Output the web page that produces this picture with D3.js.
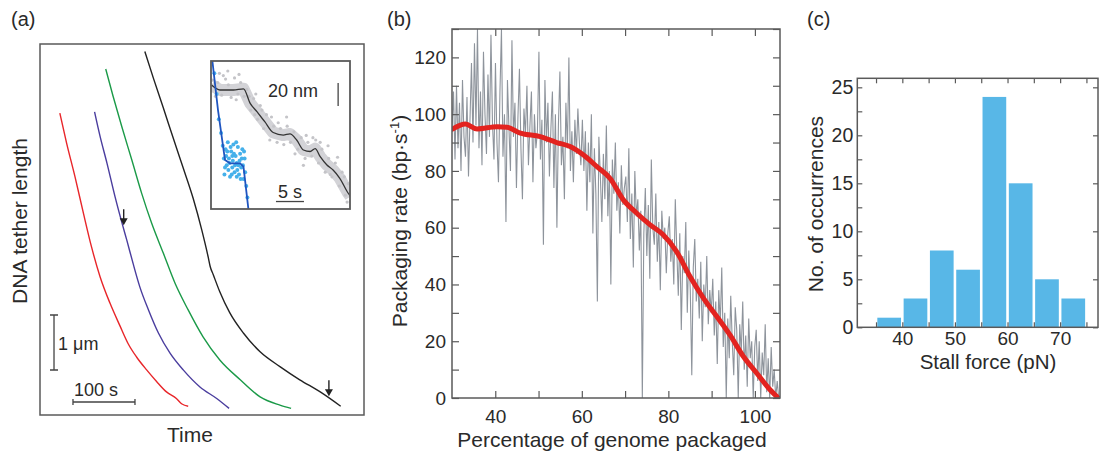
<!DOCTYPE html>
<html>
<head>
<meta charset="utf-8">
<script src="https://cdn.jsdelivr.net/npm/d3@7"></script>
<style>
  body { margin: 0; background: #fff; }
  svg text { font-family: "Liberation Sans", Arial, Helvetica, sans-serif; fill: #2a2a2a; }
</style>
</head>
<body>
<svg id="fig" width="1101" height="453"></svg>
<script>
// ---------- panel (a): tether length traces (time in s, length in um) ----------
const redTime = [32, 43, 56.5, 70, 83, 97, 113, 129, 142, 156, 172, 188, 204, 220, 229, 239];
const redLen = [5.49, 4.94, 4.33, 3.67, 3.06, 2.51, 2.03, 1.62, 1.3, 1.05, 0.82, 0.61, 0.42, 0.3, 0.2, 0.16];
const blueTime = [88, 97, 108, 121, 134, 140, 150, 161, 175, 191, 210, 231, 258, 285, 305];
const blueLen = [5.51, 5.06, 4.58, 3.97, 3.42, 3.18, 2.76, 2.33, 1.91, 1.49, 1.12, 0.82, 0.51, 0.3, 0.12];
const greenTime = [106, 118, 132, 148, 164, 180, 199, 218, 239, 263, 290, 323, 355, 387, 405];
const greenLen = [6.29, 5.79, 5.24, 4.64, 4.03, 3.49, 2.94, 2.39, 1.91, 1.42, 1.0, 0.64, 0.33, 0.18, 0.12];
const blackTime = [169, 183, 199, 215, 231, 247, 261, 271.5, 274.5, 279.5, 290, 306, 328, 355, 387, 419, 452, 485];
const blackLen = [6.61, 6.12, 5.58, 5.03, 4.49, 3.94, 3.36, 2.86, 2.7, 2.55, 2.24, 1.86, 1.49, 1.15, 0.88, 0.64, 0.42, 0.16];
const traceColors = ["#e8262a", "#4a3d9e", "#1b9a48", "#222222"];
const arrowTips = [[135, 3.45], [466, 0.34]];

// inset: time in s, position in nm
const stepTime = [0.1, 1.6, 4.0, 5.8, 7.0, 8.2, 9.6, 11.1, 12.9, 14.1, 15.3, 16.5, 17.7, 18.6, 19.5, 20.7, 21.8, 23.0, 24.5, 24.9];
const stepPos = [107.8, 103.5, 103.5, 104.5, 91.9, 84.6, 75.9, 66.5, 64.3, 65.3, 60, 51.3, 50, 52.5, 45.5, 38.3, 33.9, 26.7, 13.7, 11];
const stepDots = [[0.3, 112], [0.8, 98], [1.2, 110], [1.9, 99], [2.6, 113], [3.1, 108], [3.6, 97], [4.2, 114], [4.8, 100],
  [5.3, 110], [5.9, 98], [6.4, 104], [7.1, 86], [7.6, 96], [8.3, 78], [8.8, 90], [9.4, 70], [9.9, 82], [10.5, 60],
  [11.2, 72], [11.8, 58], [12.4, 70], [13.0, 56], [13.6, 72], [14.2, 58], [14.8, 67], [15.5, 52], [16.1, 62],
  [16.8, 44], [17.3, 58], [18.0, 46], [18.7, 60], [19.2, 40], [19.8, 52], [20.4, 32], [21.0, 44], [21.6, 28],
  [22.2, 40], [22.9, 20], [23.4, 32], [24.0, 12], [24.5, 22], [13.5, 80], [8.0, 100], [3.0, 120], [20.9, 55],
  [16.5, 38], [2.2, 116], [5.0, 117], [10.8, 80], [18.2, 62], [22.6, 45], [24.3, 6], [1.5, 118], [6.8, 98],
  [9.1, 86], [12.0, 75], [15.0, 48], [17.0, 64], [19.5, 58], [21.3, 30], [23.8, 28], [4.5, 95], [7.8, 82]];
const fastTime = [0.1, 1.25, 2.5, 3.4, 5.2, 5.8, 6.7, 7.0];
const fastPos = [135, 86, 42.6, 39.7, 39.7, 36.8, -1, -12];
const fastDots = [[2.4, 30], [2.6, 52], [2.8, 38], [3.0, 58], [3.2, 44], [3.4, 28], [3.6, 50], [3.8, 36], [4.0, 56],
  [4.2, 32], [4.4, 46], [4.6, 40], [4.8, 54], [5.0, 30], [5.2, 48], [5.4, 36], [5.6, 52], [5.8, 26], [6.0, 44],
  [2.7, 46], [3.9, 42], [4.9, 38], [5.5, 44], [1.0, 100], [1.4, 78], [1.8, 66], [0.6, 118], [2.1, 55], [6.3, 20],
  [6.5, 10], [6.1, 32], [3.1, 34], [4.5, 58], [5.3, 26], [2.5, 36], [2.9, 50], [3.3, 40], [3.7, 30], [4.1, 48],
  [4.3, 38], [4.7, 34], [5.1, 42], [5.7, 38], [3.5, 54], [4.6, 28], [2.3, 44], [5.9, 50], [3.8, 46]];

// ---------- panel (b): packaging rate vs percentage packaged ----------
const rateStart = 30, rateEnd = 105.5;
const rawRate = [
  95, 108, 84, 110, 88, 104, 80, 112, 92, 85, 106, 78, 98, 118, 90, 125, 96, 130, 88, 108, 82, 122, 100, 86, 114, 92, 128, 97, 84,
  118, 90, 76, 108, 130, 85, 100, 62, 112, 95, 80, 126, 92, 104, 74, 99, 116, 88, 70, 102, 93, 110, 82, 96, 108, 76, 100, 88, 94,
  122, 84, 98, 54, 112, 90, 104, 78, 95, 108, 74, 100, 60, 96, 115, 82, 92, 70, 104, 88, 120, 80, 94, 76, 98, 86, 102, 90, 82,
  98, 80, 94, 66, 90, 76, 100, 58, 88, 72, 34, 92, 78, 62, 86, 70, 96, 64, 80, 40, 84, 72, 90, 66, 76, 58, 82, 68, 74,
  78, 62, 88, 56, 72, 46, 80, 64, 70, 52, 66, 0, 58, 74, 50, 68, 42, 84, 60, 54, 72, 48, 62, 38, 66, 56, 60, 44, 58,
  64, 48, 56, 40, 70, 52, 36, 58, 24, 50, 44, 62, 30, 52, 38, 8, 46, 56, 34, 42, 28, 48, 20, 40, 32, 50, 26, 38, 30,
  42, 22, 34, 12, 38, 26, 46, 18, 30, 0, 28, 14, 36, 20, 8, 32, 24, 0, 26, 16, 34, 10, 22, 4, 28, 14, 20, 0, 18,
  24, 6, 20, 0, 16, 8, 26, 2, 14, 0, 18, 4, 10, 0, 6, 0];
const meanPct = [30.1, 33.1, 35.8, 40.4, 42.7, 45.8, 50.4, 54.2, 57.3, 60.4, 63.5, 66.5, 69.6, 72.7, 75.8, 78.8, 81.9, 85, 88.1, 91.2, 94.2, 97.3, 100.4, 103.5, 105.4];
const meanRate = [94.7, 96.5, 94.8, 95.6, 95.4, 93.3, 92.1, 90, 88.6, 85.6, 81.5, 77.4, 69.8, 65.1, 61, 57.5, 51.6, 42.8, 35.2, 28.7, 22.3, 14.7, 8.8, 2.9, 0];

// ---------- panel (c): stall force histogram ----------
const binStart = [35, 40, 45, 50, 55, 60, 65, 70];
const binWidth = 5;
const binCount = [1, 3, 8, 6, 24, 15, 5, 3];

const svg = d3.select("#fig");
const frameColor = "#5a5a5a";

function panelLabel(x, txt) {
  svg.append("text").attr("x", x).attr("y", 26).attr("font-size", 20).text(txt);
}

// ================= (a) =================
const xA = d3.scaleLinear().domain([0, 522.6]).range([40, 364]);
const yA = d3.scaleLinear().domain([0, 6.745]).range([415, 44]);
const gA = svg.append("g");
gA.append("rect").attr("x", 40).attr("y", 44).attr("width", 324).attr("height", 371)
  .attr("fill", "none").attr("stroke", frameColor).attr("stroke-width", 1.5);

const traces = [[redTime, redLen], [blueTime, blueLen], [greenTime, greenLen], [blackTime, blackLen]];
const lineA = d3.line().x(d => xA(d[0])).y(d => yA(d[1])).curve(d3.curveMonotoneX);
traces.forEach((tr, i) => {
  gA.append("path")
    .datum(d3.zip(tr[0], tr[1]))
    .attr("d", lineA)
    .attr("fill", "none")
    .attr("stroke", traceColors[i])
    .attr("stroke-width", 1.4);
});

// arrows marking pauses
arrowTips.forEach(a => {
  const tx = xA(a[0]), ty = yA(a[1]);
  gA.append("line").attr("x1", tx).attr("x2", tx).attr("y1", ty - 16).attr("y2", ty - 5)
    .attr("stroke", "#222").attr("stroke-width", 1.4);
  gA.append("path").attr("d", `M${tx - 4},${ty - 7}L${tx + 4},${ty - 7}L${tx},${ty}Z`).attr("fill", "#222");
});

// scale bars
const vBar = { t: 22.6, l0: 0.818, l1: 1.818 };
gA.append("path")
  .attr("d", `M${xA(vBar.t) - 4},${yA(vBar.l1)}H${xA(vBar.t) + 4}M${xA(vBar.t)},${yA(vBar.l1)}V${yA(vBar.l0)}M${xA(vBar.t) - 4},${yA(vBar.l0)}H${xA(vBar.t) + 4}`)
  .attr("stroke", "#444").attr("stroke-width", 1.3).attr("fill", "none");
gA.append("text").attr("x", xA(vBar.t) + 4).attr("y", 350).attr("font-size", 18).text("1 \u03bcm");
const hBar = { t0: 53.2, t1: 153.2, l: 0.236 };
gA.append("path")
  .attr("d", `M${xA(hBar.t0)},${yA(hBar.l) - 3}V${yA(hBar.l) + 3}M${xA(hBar.t0)},${yA(hBar.l)}H${xA(hBar.t1)}M${xA(hBar.t1)},${yA(hBar.l) - 3}V${yA(hBar.l) + 3}`)
  .attr("stroke", "#444").attr("stroke-width", 1.3).attr("fill", "none");
gA.append("text").attr("x", xA(hBar.t0) + 1).attr("y", 396).attr("font-size", 18).text("100 s");

gA.append("text").attr("x", 190).attr("y", 442).attr("text-anchor", "middle").attr("font-size", 21).text("Time");
gA.append("text").attr("transform", "translate(27,221) rotate(-90)").attr("text-anchor", "middle")
  .attr("font-size", 21).text("DNA tether length");
panelLabel(11, "(a)");

// ----- inset -----
const xI = d3.scaleLinear().domain([0, 24.82]).range([211, 350]);
const yI = d3.scaleLinear().domain([0, 128.7]).range([209, 61]);
svg.append("clipPath").attr("id", "insetClip")
  .append("rect").attr("x", 211).attr("y", 61).attr("width", 139).attr("height", 148);
const gI = svg.append("g");
gI.append("rect").attr("x", 211).attr("y", 61).attr("width", 139).attr("height", 148).attr("fill", "#fff");
const gIc = gI.append("g").attr("clip-path", "url(#insetClip)");
const lineI = d3.line().x(d => xI(d[0])).y(d => yI(d[1]));
gIc.append("path").datum(d3.zip(stepTime, stepPos)).attr("d", lineI)
  .attr("fill", "none").attr("stroke", "#d3d3d7").attr("stroke-width", 12).attr("stroke-linejoin", "round");
gIc.selectAll("circle.sd").data(stepDots).join("circle").attr("class", "sd")
  .attr("cx", d => xI(d[0])).attr("cy", d => yI(d[1])).attr("r", 1.6).attr("fill", "#c4c4c8");
gIc.append("path").datum(d3.zip(stepTime, stepPos)).attr("d", lineI.curve(d3.curveMonotoneX))
  .attr("fill", "none").attr("stroke", "#333").attr("stroke-width", 1.3);
gIc.selectAll("circle.fd").data(fastDots).join("circle").attr("class", "fd")
  .attr("cx", d => xI(d[0])).attr("cy", d => yI(d[1])).attr("r", 2).attr("fill", "#45b0ea");
gIc.append("path").datum(d3.zip(fastTime, fastPos)).attr("d", d3.line().x(d => xI(d[0])).y(d => yI(d[1])))
  .attr("fill", "none").attr("stroke", "#1f55c0").attr("stroke-width", 1.8);
gI.append("rect").attr("x", 211).attr("y", 61).attr("width", 139).attr("height", 148)
  .attr("fill", "none").attr("stroke", frameColor).attr("stroke-width", 1.8);
gI.append("line").attr("x1", xI(22.7)).attr("x2", xI(22.7)).attr("y1", yI(109.6)).attr("y2", yI(89.6))
  .attr("stroke", "#444").attr("stroke-width", 1.3);
gI.append("text").attr("x", 268).attr("y", 97).attr("font-size", 18).text("20 nm");
gI.append("line").attr("x1", xI(11.6)).attr("x2", xI(16.6)).attr("y1", yI(6.5)).attr("y2", yI(6.5))
  .attr("stroke", "#444").attr("stroke-width", 1.3);
gI.append("text").attr("x", (xI(11.6) + xI(16.6)) / 2).attr("y", 198).attr("text-anchor", "middle")
  .attr("font-size", 18).text("5 s");

// ================= (b) =================
const xB = d3.scaleLinear().domain([30, 105.8]).range([452, 780]);
const yB = d3.scaleLinear().domain([0, 130]).range([398, 29]);
const gB = svg.append("g");
svg.append("clipPath").attr("id", "bClip")
  .append("rect").attr("x", 452).attr("y", 29).attr("width", 328).attr("height", 369);

const pctStep = (rateEnd - rateStart) / (rawRate.length - 1);
const rateData = rawRate.map((v, i) => [rateStart + i * pctStep, v]);
const gBc = gB.append("g").attr("clip-path", "url(#bClip)");
gBc.append("path").datum(rateData)
  .attr("d", d3.line().x(d => xB(d[0])).y(d => yB(d[1])))
  .attr("fill", "none").attr("stroke", "#8e949c").attr("stroke-width", 1.1);
gBc.append("path").datum(d3.zip(meanPct, meanRate))
  .attr("d", d3.line().x(d => xB(d[0])).y(d => yB(d[1])).curve(d3.curveMonotoneX))
  .attr("fill", "none").attr("stroke", "#e3231f").attr("stroke-width", 5).attr("stroke-linecap", "round");

const bTicksY = d3.range(0, 131, 10), bTicksX = d3.range(40, 101, 10);
const lab20 = d => (d % 20 === 0 ? d : "");
const styleAxis = (g, fs) => {
  g.select(".domain").remove();
  g.selectAll(".tick line").attr("stroke", frameColor).attr("stroke-width", 1.2);
  g.selectAll(".tick text").attr("font-size", fs).attr("fill", "#2a2a2a")
    .attr("font-family", "'Liberation Sans', Arial, sans-serif");
};
gB.append("g").attr("transform", "translate(452,0)")
  .call(d3.axisLeft(yB).tickValues(bTicksY).tickSize(-7).tickPadding(6).tickFormat(lab20))
  .call(g => styleAxis(g, 19));
gB.append("g").attr("transform", "translate(780,0)")
  .call(d3.axisRight(yB).tickValues(bTicksY).tickSize(-7).tickFormat(""))
  .call(g => styleAxis(g, 19));
gB.append("g").attr("transform", "translate(0,398)")
  .call(d3.axisBottom(xB).tickValues(bTicksX).tickSize(-7).tickPadding(12).tickFormat(lab20))
  .call(g => styleAxis(g, 19));
gB.append("g").attr("transform", "translate(0,29)")
  .call(d3.axisTop(xB).tickValues(bTicksX).tickSize(-7).tickFormat(""))
  .call(g => styleAxis(g, 19));
gB.append("rect").attr("x", 452).attr("y", 29).attr("width", 328).attr("height", 369)
  .attr("fill", "none").attr("stroke", frameColor).attr("stroke-width", 1.5);

gB.append("text").attr("x", 612).attr("y", 447).attr("text-anchor", "middle").attr("font-size", 21)
  .text("Percentage of genome packaged");
const yLabB = gB.append("text").attr("transform", "translate(407,221) rotate(-90)")
  .attr("text-anchor", "middle").attr("font-size", 21);
yLabB.append("tspan").text("Packaging rate (bp\u00b7s");
yLabB.append("tspan").attr("font-size", 13).attr("dy", -8).text("-1");
yLabB.append("tspan").attr("dy", 8).text(")");
panelLabel(387, "(b)");

// ================= (c) =================
const xC = d3.scaleLinear().domain([31.44, 77.2]).range([857.3, 1098]);
const yC = d3.scaleLinear().domain([0, 25.94]).range([327.3, 78.3]);
const gC = svg.append("g");
gC.selectAll("rect.bar").data(d3.zip(binStart, binCount)).join("rect").attr("class", "bar")
  .attr("x", d => xC(d[0]) + 1.3)
  .attr("width", d => xC(d[0] + binWidth) - xC(d[0]) - 2.6)
  .attr("y", d => yC(d[1]))
  .attr("height", d => yC(0) - yC(d[1]))
  .attr("fill", "#58b7e7");

const cTicksY = d3.range(0, 26, 2.5), cTicksX = d3.range(35, 76, 5);
gC.append("g").attr("transform", "translate(857.3,0)")
  .call(d3.axisLeft(yC).tickValues(cTicksY).tickSize(-5).tickPadding(4).tickFormat(d => (d % 5 === 0 ? d : "")))
  .call(g => styleAxis(g, 19.5));
gC.append("g").attr("transform", "translate(1098,0)")
  .call(d3.axisRight(yC).tickValues(d3.range(0, 26, 5)).tickSize(-5).tickFormat(""))
  .call(g => styleAxis(g, 19.5));
gC.append("g").attr("transform", "translate(0,327.3)")
  .call(d3.axisBottom(xC).tickValues(cTicksX).tickSize(-5).tickPadding(4).tickFormat(d => (d % 10 === 0 ? d : "")))
  .call(g => styleAxis(g, 19));
gC.append("g").attr("transform", "translate(0,78.3)")
  .call(d3.axisTop(xC).tickValues(cTicksX).tickSize(-5).tickFormat(""))
  .call(g => styleAxis(g, 19.5));
gC.append("rect").attr("x", 857.3).attr("y", 78.3).attr("width", 240.7).attr("height", 249)
  .attr("fill", "none").attr("stroke", frameColor).attr("stroke-width", 1.5);

gC.append("text").attr("x", 988).attr("y", 369).attr("text-anchor", "middle").attr("font-size", 20.5)
  .text("Stall force (pN)");
gC.append("text").attr("transform", "translate(823,204) rotate(-90)").attr("text-anchor", "middle")
  .attr("font-size", 21).text("No. of occurrences");
panelLabel(807, "(c)");
</script>
</body>
</html>
